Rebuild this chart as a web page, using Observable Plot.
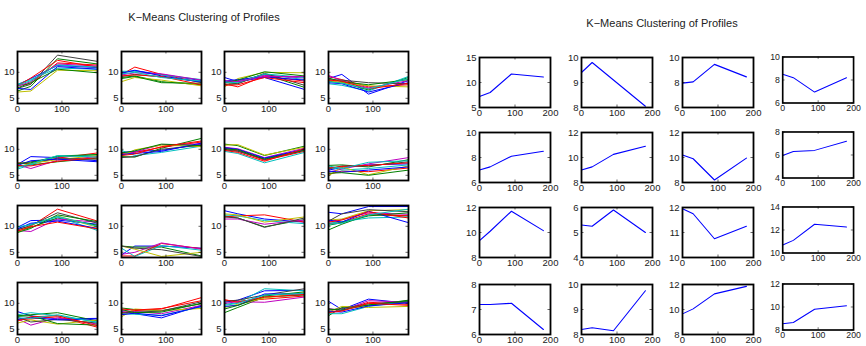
<!DOCTYPE html>
<html><head><meta charset="utf-8">
<script src="https://cdn.jsdelivr.net/npm/d3@7"></script>
<script src="https://cdn.jsdelivr.net/npm/@observablehq/plot@0.6"></script>
<style>
html,body{margin:0;padding:0;background:#fff;overflow:hidden;}
#root{position:relative;width:866px;height:346px;overflow:hidden;font-family:"Liberation Sans",Arial,Helvetica,sans-serif;}
.title{position:absolute;font-size:11px;line-height:11px;color:#222;white-space:nowrap;transform:translateX(-50%);}
.cell{position:absolute;}
</style></head><body><div id="root"></div>
<script>
// ---------- data ----------
const chartTitle = "K\u2212Means Clustering of Profiles";
const timePoints = [0, 30, 90, 180];

// member profiles of each cluster (values at timePoints)
const cluster1 = [[7.6,8.8,11.3,10.9],[6.4,7.3,12.6,11.6],[7.5,7.8,11.8,11.4],[7.7,8.6,10.8,10.6],[7.3,8.2,11.6,11.2],[6.2,6.4,10.4,10.3],[6.9,7.7,13.3,12.1],[6.9,6.7,11.1,10.6],[7.0,8.0,10.6,9.9],[7.4,8.9,12.3,11.0],[7.5,8.4,11.4,11.0]];
const cluster2 = [[10.0,10.3,9.6,8.4],[9.0,9.3,8.2,7.6],[9.6,11.0,9.6,8.0],[10.2,10.2,9.5,8.6],[9.5,9.9,9.7,8.5],[8.2,9.0,8.5,7.4],[9.2,9.6,9.1,8.2],[9.8,10.4,9.3,8.1],[8.8,9.2,8.0,7.9],[9.3,9.5,9.2,7.6],[9.7,10.0,9.0,8.3]];
const cluster3 = [[9.0,8.2,9.0,6.7],[7.6,7.9,9.6,7.1],[7.8,7.2,9.3,8.3],[8.2,8.3,9.6,8.6],[8.0,8.4,9.4,8.9],[7.2,8.8,10.0,9.9],[7.7,7.8,9.8,7.5],[8.3,8.6,9.1,8.5],[8.0,8.5,10.1,9.3],[7.5,7.6,9.0,8.0],[8.1,8.0,9.7,9.0],[8.4,8.2,9.2,9.2]];
const cluster4 = [[8.8,9.6,5.8,8.4],[8.3,8.0,6.6,9.0],[9.2,8.6,7.2,7.6],[7.8,7.5,6.4,9.2],[9.4,8.4,7.0,8.4],[8.4,8.0,7.4,7.2],[8.6,8.5,8.0,7.8],[8.0,7.8,6.2,8.0],[8.9,8.2,7.6,8.6],[8.5,8.3,6.8,7.9],[8.2,7.9,6.8,8.8]];
const cluster5 = [[7.1,8.6,8.4,7.8],[6.8,7.0,7.6,8.3],[7.4,7.2,8.3,9.3],[6.2,7.0,8.6,8.9],[7.0,6.3,7.9,8.6],[6.6,7.3,8.0,8.8],[7.2,7.6,8.2,8.1],[6.9,7.8,8.1,7.6],[7.3,7.4,8.7,9.0],[6.9,6.8,7.7,8.4],[6.5,7.2,8.8,8.5]];
const cluster6 = [[9.4,9.6,9.8,11.0],[8.6,8.5,10.2,12.1],[9.2,9.4,10.4,11.4],[9.8,8.8,9.4,10.6],[8.9,9.5,10.9,11.0],[8.7,9.9,10.8,10.5],[8.4,8.6,10.0,10.8],[9.0,9.2,9.6,11.2],[9.3,9.7,11.0,10.7],[8.8,9.1,10.5,11.6]];
const cluster7 = [[10.2,9.8,8.0,9.8],[11.0,10.7,8.8,10.6],[10.0,9.7,7.9,9.6],[9.6,9.2,7.4,9.4],[10.4,10.1,8.4,10.2],[10.8,10.9,8.9,10.4],[9.9,9.6,8.2,9.9],[10.3,10.0,8.3,10.0],[10.1,9.9,8.1,9.8],[9.8,9.4,7.7,10.1]];
const cluster8 = [[6.0,6.5,7.0,7.2],[6.9,7.0,6.6,8.0],[5.2,5.8,5.7,6.4],[6.6,6.0,6.3,7.0],[5.6,6.2,7.2,8.4],[4.9,6.6,5.1,6.8],[6.2,6.8,6.8,7.6],[5.8,5.6,6.0,6.6],[5.4,5.5,5.0,6.0],[6.4,6.7,6.9,7.4],[6.8,6.3,7.5,7.8]];
const cluster9 = [[9.8,11.1,11.2,10.4],[9.0,9.8,11.6,10.2],[9.4,10.0,13.3,11.0],[9.6,10.4,11.8,9.2],[9.2,9.0,11.4,10.8],[8.8,10.2,12.0,9.8],[9.3,10.2,12.6,10.6],[9.5,10.6,11.0,9.6],[8.8,9.6,12.2,10.9],[9.1,9.9,10.8,9.5],[9.9,10.3,11.9,10.0]];
const cluster10 = [[4.5,6.2,6.2,5.8],[6.2,6.0,6.0,4.3],[4.3,4.3,6.7,5.7],[5.8,4.2,6.3,5.4],[4.6,5.0,6.8,5.6],[6.2,5.6,4.2,5.0],[6.2,5.8,5.5,4.2]];
const cluster11 = [[13.0,12.4,11.4,10.8],[12.0,11.6,9.9,11.3],[11.8,12.0,12.2,10.8],[12.2,12.0,11.1,10.5],[11.4,11.4,10.4,11.2],[12.4,12.2,10.8,11.8],[11.8,11.6,9.8,11.6]];
const cluster12 = [[12.7,12.4,13.8,13.8],[9.3,10.4,12.2,12.0],[10.5,10.8,12.4,12.0],[10.6,10.9,11.6,11.8],[10.9,11.3,12.6,12.3],[11.2,11.4,13.0,13.2],[11.0,12.4,13.2,12.8],[11.2,10.8,12.9,10.7],[10.2,10.7,12.0,12.6],[10.8,11.2,12.8,11.6],[10.4,10.6,12.2,13.3]];
const cluster13 = [[8.4,7.6,7.0,7.1],[7.6,7.8,8.2,6.6],[6.8,7.0,7.4,5.4],[7.8,8.2,7.6,6.4],[7.0,5.8,7.2,6.0],[6.2,6.8,6.0,6.8],[7.3,6.4,6.9,6.2],[6.9,7.3,6.8,7.0],[7.5,7.6,6.1,5.8],[6.6,7.4,7.6,5.7],[7.2,7.1,7.8,6.3]];
const cluster14 = [[8.4,8.0,7.2,9.6],[9.1,8.8,8.6,9.9],[8.2,8.6,8.9,11.1],[8.0,7.9,7.7,9.3],[8.6,8.4,8.0,9.6],[7.4,8.9,8.6,9.0],[8.1,8.3,8.5,10.3],[7.8,8.1,7.6,9.4],[8.8,8.2,8.3,10.0],[8.9,8.7,9.0,10.5]];
const cluster15 = [[10.2,10.6,12.4,12.5],[8.2,9.2,11.2,11.6],[10.6,10.4,10.8,11.4],[9.8,10.1,12.8,12.4],[10.0,10.3,10.2,11.2],[9.2,9.8,11.0,12.0],[10.4,10.6,11.6,12.8],[9.4,9.6,11.8,11.8],[8.9,9.6,11.4,12.2],[10.7,10.2,11.2,11.7],[9.6,10.0,11.6,11.9]];
const cluster16 = [[10.4,8.8,10.8,10.0],[7.6,9.2,9.6,10.6],[8.4,8.6,10.2,9.8],[8.0,8.0,9.4,10.4],[9.0,8.6,10.5,10.2],[8.3,9.4,9.2,9.4],[8.7,9.0,9.9,10.3],[8.5,8.3,9.5,10.1],[8.9,8.7,9.7,10.5],[8.2,8.5,10.0,9.6]];

// cluster centroids (right figure)
const centroids = [
  [7.2,8.0,11.7,11.1],[9.4,9.8,9.1,8.05],[7.95,8.05,9.45,8.45],[8.5,8.2,6.95,8.2],
  [7.0,7.25,8.1,8.5],[9.0,9.25,10.25,10.9],[10.2,9.9,8.2,9.95],[5.95,6.3,6.4,7.2],
  [9.35,10.1,11.7,10.15],[5.3,5.25,5.9,5.0],[11.95,11.75,10.75,11.25],[10.7,11.1,12.5,12.25],
  [7.2,7.2,7.25,6.2],[8.2,8.27,8.15,9.75],[9.65,10.05,11.25,11.85],[8.55,8.65,9.8,10.1]
];

// axis limits / tick labels
const leftXDomain = [0, 180];
const leftXTicks = [0, 100];
const leftYDomain = [4, 14];
const leftYTicks = [5, 10];
const rightXDomain = [0, 200];
const rightXTicks = [0, 100, 200];
const rightYDomains = [[5,15],[8,10],[6,10],[6,10],[6,10],[8,12],[8,12],[4,8],[8,12],[4,6],[10,12],[10,14],[6,8],[8,10],[8,12],[8,12]];
const rightYTicks = [[5,10,15],[8,9,10],[6,8,10],[6,8,10],[6,8,10],[8,10,12],[8,10,12],[4,6,8],[8,10,12],[4,5,6],[10,11,12],[10,12,14],[6,7,8],[8,9,10],[8,10,12],[8,10,12]];

// ---------- styles / layout ----------
const lineColors = ["#0000ff","#008000","#ff0000","#00bfbf","#bf00bf","#bfbf00","#404040"];
const clusters = [cluster1,cluster2,cluster3,cluster4,cluster5,cluster6,cluster7,cluster8,cluster9,cluster10,cluster11,cluster12,cluster13,cluster14,cluster15,cluster16];

const L = {cols:[17,121,224,328], ws:[80,80,80,80], rows:[51,128,205,282], h:52};
const R = {cols:[479,581,682,784], ws:[71,71,71,77], rows:[57,132,207,284], h:50};
const M = {l:22, r:14, t:6, b:14};

const root = document.getElementById("root");

function addTitle(text, cx, top){
  const d = document.createElement("div");
  d.className = "title"; d.textContent = text;
  d.style.left = cx + "px"; d.style.top = top + "px";
  root.appendChild(d);
}

function small({lines, stroke, sw, xDomain, xTicks, yDomain, yTicks, w, h, left, top}){
  const rows = [];
  lines.forEach((vals, i) => vals.forEach((v, j) => rows.push({t: timePoints[j], v, id: i})));
  const tk = 2.5;
  const svg = Plot.plot({
    width: w + M.l + M.r, height: h + M.t + M.b,
    marginLeft: M.l, marginRight: M.r, marginTop: M.t, marginBottom: M.b,
    style: {fontFamily: "'Liberation Sans', Arial, Helvetica, sans-serif", fontSize: "9px", color: "#222", background: "transparent", overflow: "visible"},
    x: {domain: xDomain, ticks: xTicks, label: null},
    y: {domain: yDomain, ticks: yTicks, label: null},
    color: {type: "identity"},
    marks: [
      Plot.line(rows, {x: "t", y: "v", z: "id", stroke: stroke ? () => stroke : d => lineColors[d.id % lineColors.length], strokeWidth: sw, clip: true}),
      Plot.tickX(xTicks, {x: d => d, stroke: "#000", strokeWidth: 0.6, insetTop: h - tk}),
      Plot.tickX(xTicks, {x: d => d, stroke: "#000", strokeWidth: 0.6, insetBottom: h - tk}),
      Plot.tickY(yTicks, {y: d => d, stroke: "#000", strokeWidth: 0.6, insetRight: w - tk}),
      Plot.tickY(yTicks, {y: d => d, stroke: "#000", strokeWidth: 0.6, insetLeft: w - tk}),
      Plot.frame({stroke: "#000", strokeWidth: 1.8}),
      Plot.axisX(xTicks, {tickSize: 0, tickPadding: 2, fontSize: 9.5, fill: "#222", label: null}),
      Plot.axisY(yTicks, {tickSize: 0, tickPadding: 3, fontSize: 9.5, fill: "#222", label: null})
    ]
  });
  const div = document.createElement("div");
  div.className = "cell";
  div.style.left = (left - M.l) + "px";
  div.style.top = (top - M.t) + "px";
  div.appendChild(svg);
  root.appendChild(div);
}

addTitle(chartTitle, 204, 11.5);
addTitle(chartTitle, 662, 17.5);

clusters.forEach((lines, k) => {
  const r = Math.floor(k / 4), c = k % 4;
  small({lines, sw: 1, xDomain: leftXDomain, xTicks: leftXTicks, yDomain: leftYDomain, yTicks: leftYTicks,
    w: L.ws[c], h: L.h, left: L.cols[c], top: L.rows[r]});
  small({lines: [centroids[k]], stroke: "#0000ff", sw: 1.1, xDomain: rightXDomain, xTicks: rightXTicks, yDomain: rightYDomains[k], yTicks: rightYTicks[k],
    w: R.ws[c], h: R.h, left: R.cols[c], top: R.rows[r]});
});
</script>
</body></html>
